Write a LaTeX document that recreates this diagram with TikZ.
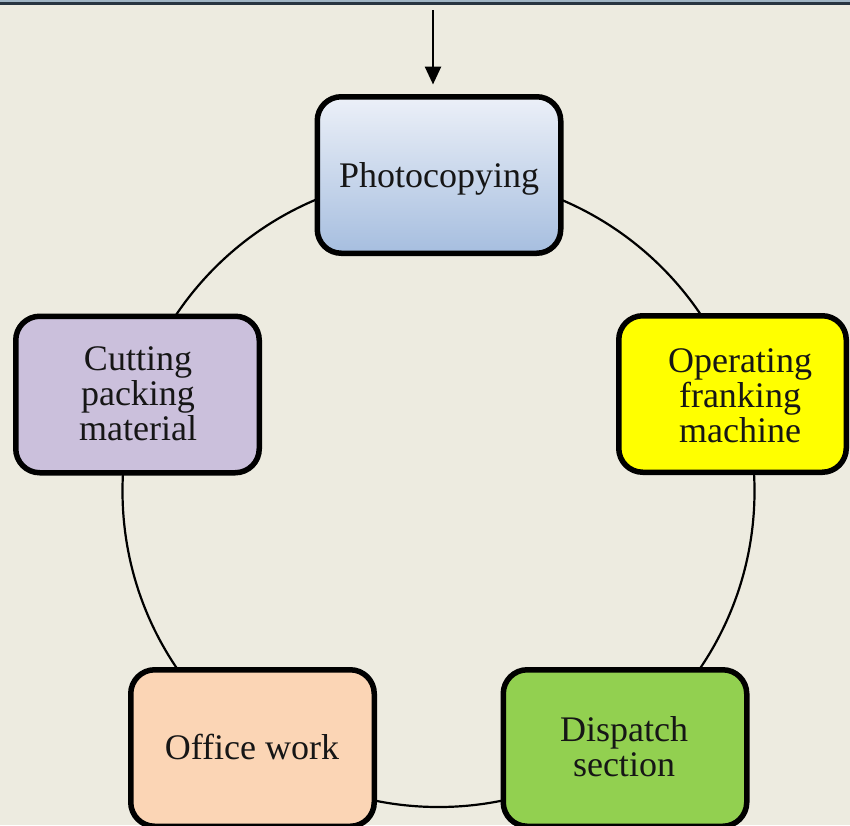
\documentclass[tikz,border=0pt]{standalone}
\usepackage{fontspec}
\setmainfont{Liberation Serif}
\usetikzlibrary{arrows.meta}
\definecolor{bg}{RGB}{237,235,224}
\definecolor{topband}{RGB}{160,180,196}
\definecolor{topline}{RGB}{40,52,64}
\definecolor{phtop}{RGB}{236,240,248}
\definecolor{phbot}{RGB}{166,190,223}
\definecolor{cutc}{RGB}{203,192,220}
\definecolor{operc}{RGB}{255,255,0}
\definecolor{officec}{RGB}{251,213,181}
\definecolor{dispc}{RGB}{146,208,80}
\definecolor{txtc}{RGB}{22,22,22}
\begin{document}
\begin{tikzpicture}[x=1pt,y=-1pt,
  box/.style={draw=black, line width=5.5pt, rounded corners=24pt,
    minimum width=243.5pt, minimum height=156.5pt, inner sep=0pt},
  txt/.style={align=center, text=txtc, inner sep=0pt,
    font=\fontsize{36}{35}\selectfont},
  ring/.style={draw=black, line width=2.2pt},
  flow/.style={draw=black, line width=2.6pt, -{Triangle[length=18pt,width=16pt]}}
]
\fill[bg] (0,0) rectangle (850,825);
\useasboundingbox (0,0) rectangle (850,825);
\fill[topband] (0,0) rectangle (850,2);
\fill[topline] (0,2) rectangle (850,5);
% ring behind the boxes
\draw[ring] (438.5,491) circle (316pt);
% boxes
\node[box, top color=phtop, bottom color=phbot] (photo) at (439,175) {};
\node[box, fill=cutc] (cut) at (137.5,394.5) {};
\node[box, fill=operc, minimum width=227.5pt] (oper) at (732.5,394) {};
\node[box, fill=officec] (office) at (252.5,748) {};
\node[box, fill=dispc] (disp) at (625,748) {};
% texts
\node[txt, anchor=base] (photot) at (439,187) {Photocopying};
\node[txt] (cutt) at (138,394) {Cutting\\packing\\material};
\node[txt] (opert) at (740,396) {Operating\\franking\\machine};
\node[txt, anchor=base] (officet) at (252,759) {Office work};
\node[txt] (dispt) at (624,747) {Dispatch\\section};
% incoming arrow
\coordinate (src) at (433,10);
\draw[flow, shorten >=9.5pt] (src) -- (src |- photo.north);
\end{tikzpicture}
\end{document}
